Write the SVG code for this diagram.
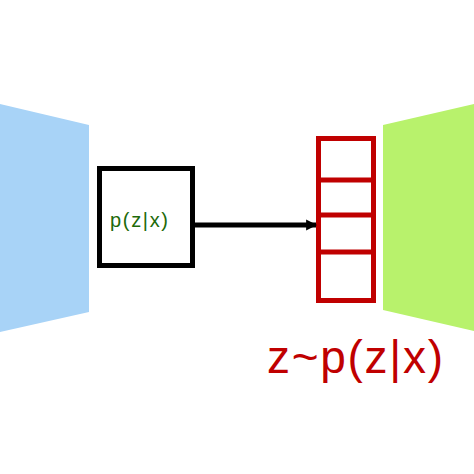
<svg xmlns="http://www.w3.org/2000/svg" width="474" height="474" viewBox="0 0 474 474">
<style>
.lbl{font-family:"Liberation Sans","DejaVu Sans",sans-serif;}
.red{fill:none;stroke:#c00000;stroke-width:5}
</style>
<defs>
<marker id="ah" viewBox="0 0 10 10" refX="9" refY="5" markerWidth="2.2" markerHeight="2.6" orient="auto" markerUnits="strokeWidth">
<path d="M0,0 L10,5 L0,10 z" fill="#000"/>
</marker>
</defs>
<rect width="474" height="474" fill="#fff"/>
<g id="encoder"><polygon points="0,104 89,125 89,312 0,332" fill="#a8d3f7"/></g>
<g id="decoder"><polygon points="383,125 474,104 474,331 383,310" fill="#b8f26c"/></g>
<g id="dist">
<rect x="99.5" y="168.5" width="93" height="97" fill="#fff" stroke="#000" stroke-width="5"/>
<text class="lbl" x="139" y="227" font-size="20" fill="#1e6a0a" text-anchor="middle" textLength="58">p(z|x)</text>
</g>
<g id="latent">
<rect class="red" x="318.5" y="138.5" width="55" height="162" fill="#fff"/>
<line class="red" x1="318.5" y1="180" x2="373.5" y2="180"/>
<line class="red" x1="318.5" y1="215" x2="373.5" y2="215"/>
<line class="red" x1="318.5" y1="252" x2="373.5" y2="252"/>
<text class="lbl" x="355" y="373" font-size="46" fill="#c00000" text-anchor="middle" textLength="176">z~p(z|x)</text>
</g>
<g id="connectors">
<line x1="195" y1="225" x2="316" y2="225" stroke="#000" stroke-width="5" marker-end="url(#ah)"/>
</g>
</svg>
